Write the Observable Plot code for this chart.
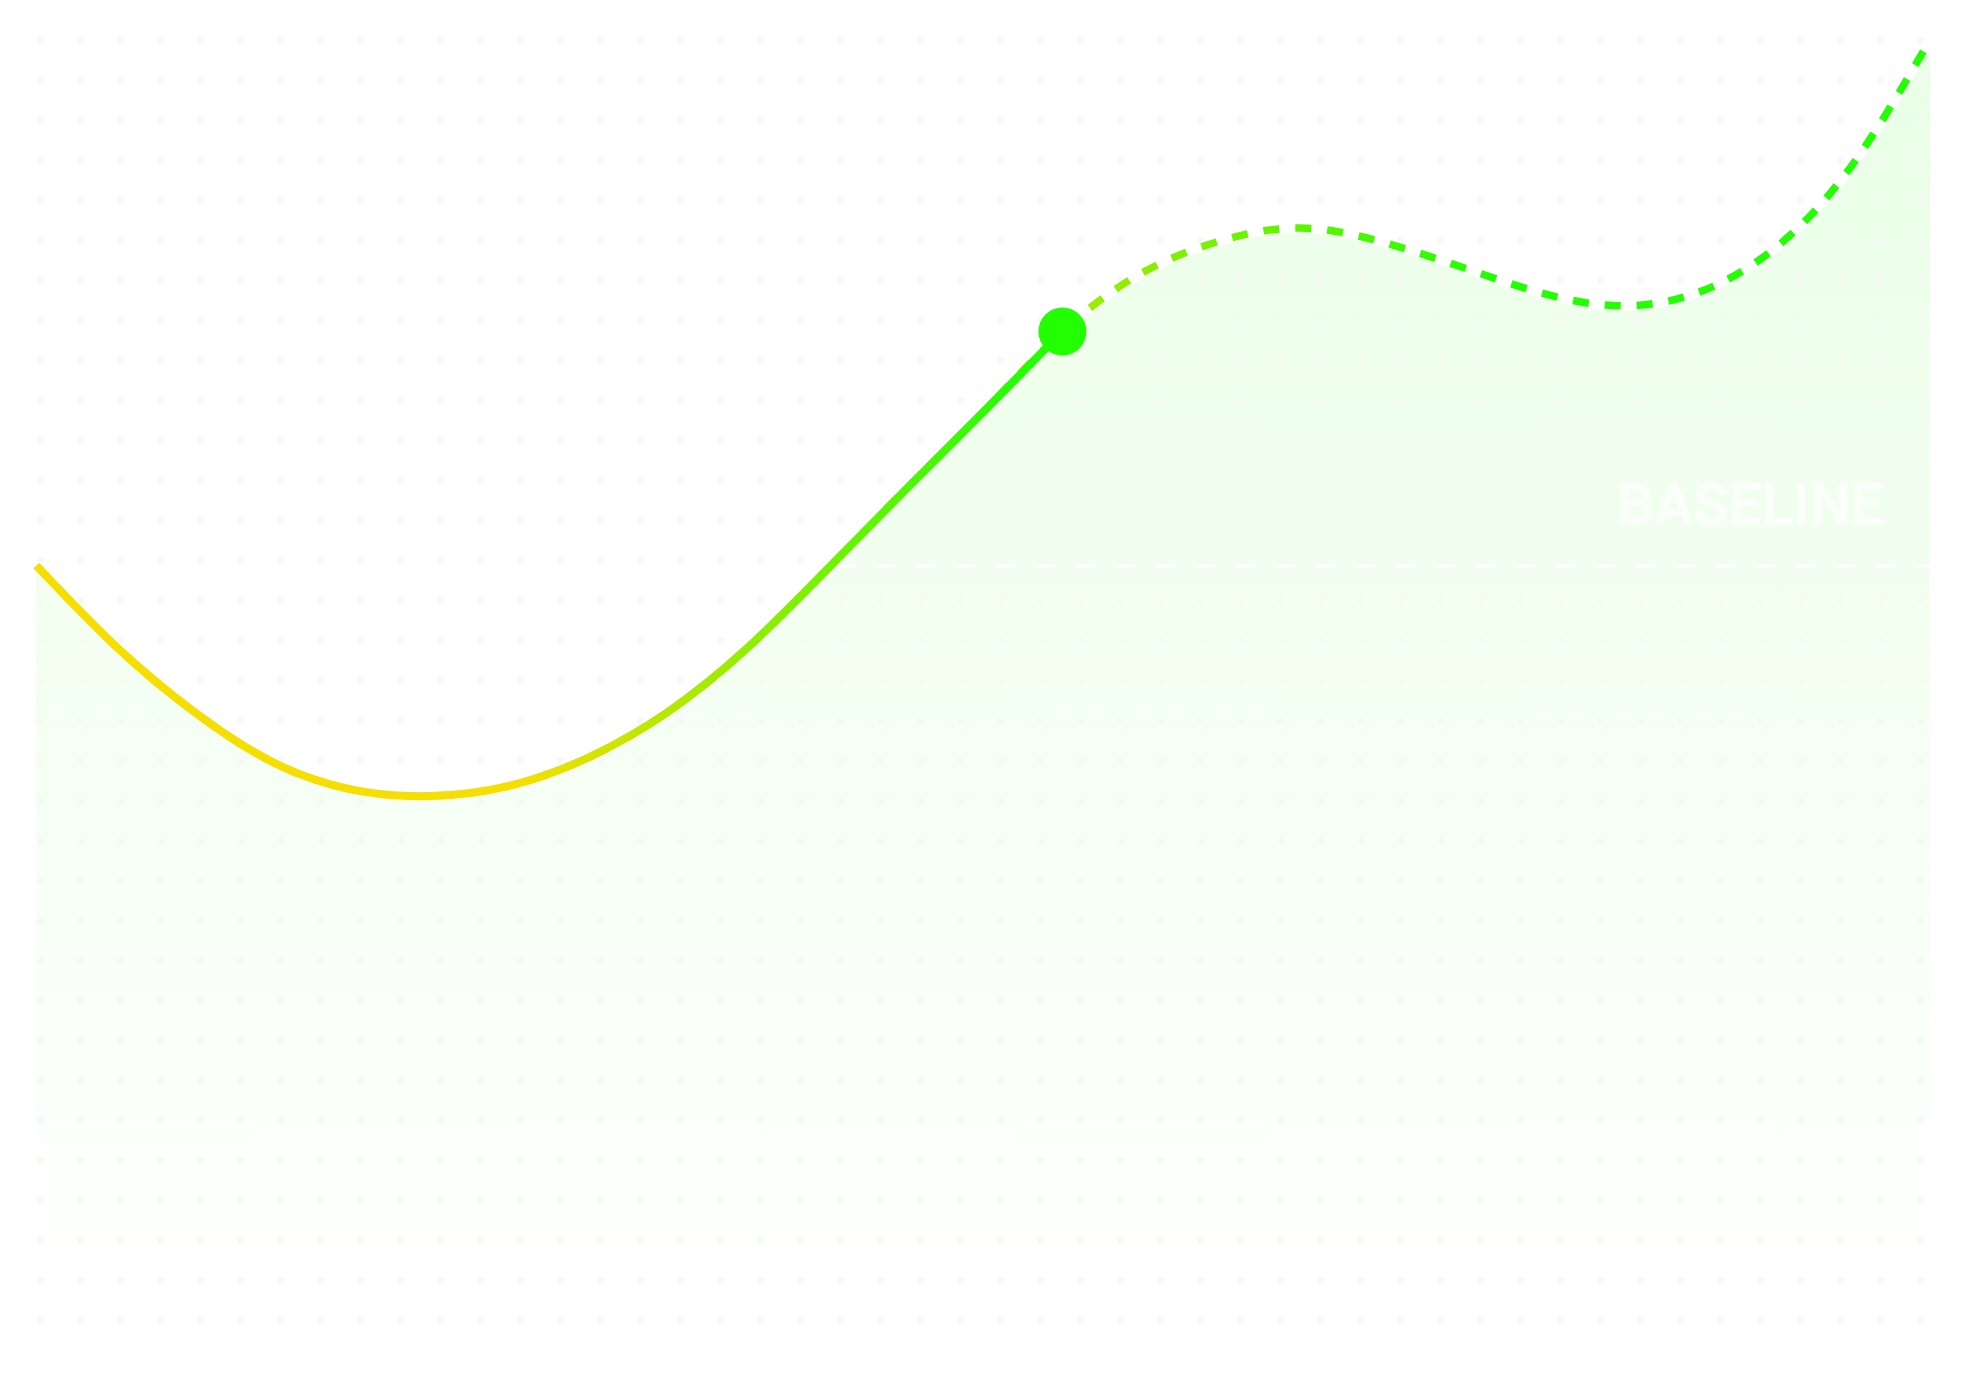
<!DOCTYPE html>
<html>
<head>
<meta charset="utf-8">
<script src="https://cdn.jsdelivr.net/npm/d3@7"></script>
<script src="https://cdn.jsdelivr.net/npm/@observablehq/plot@0.6"></script>
<style>
  html, body { margin: 0; padding: 0; background: #ffffff; overflow: hidden; }
</style>
</head>
<body>
<div id="chart"></div>
<script>
// Period index (0–24) and values
const periods = [0, 1, 2, 3, 4, 5, 6, 7, 8, 9, 10, 11, 12, 13, 14, 15, 16, 17, 18, 19, 20, 21, 22, 23, 24];
const values = [59.1, 52.9, 47.8, 43.9, 41.8, 41.3, 42.1, 44.3, 47.8, 52.7, 58.7, 64.9, 71.0, 77.2,
  81.7, 84.2, 85.2, 84.2, 82.3, 80.3, 79.2, 80.1, 83.5, 90.0, 99.8];
const actualCount = 14;           // points up to and including the marker (index 13)
const baselineLabel = "BASELINE";

const series = periods.map((t, i) => ({t, v: values[i]}));
const actual = series.slice(0, actualCount);
const current = [series[actualCount - 1]];
const baseline = values[0];
const lastPeriod = periods[periods.length - 1];

const svg = Plot.plot({
  width: 1968,
  height: 1382,
  marginLeft: 36,
  marginRight: 38,
  marginTop: 36,
  marginBottom: 52,
  x: {domain: [0, 24], axis: null},
  y: {domain: [0, 100], axis: null},
  style: {background: "#ffffff"},
  marks: [
    Plot.areaY(series, {x: "t", y: "v", curve: "natural", fill: "url(#areaFill)"}),
    Plot.frame({fill: "url(#dotgrid)", stroke: "none"}),
    Plot.ruleY([baseline], {stroke: "#ffffff", strokeWidth: 3, strokeDasharray: "20,20", strokeOpacity: 0.9}),
    Plot.text([baseline], {
      x: () => lastPeriod, y: d => d, text: () => baselineLabel, textAnchor: "end", lineAnchor: "middle",
      dx: -47, dy: -60, fontSize: 58, fontWeight: 700, fontFamily: "Roboto, sans-serif",
      fill: "#ffffff", fillOpacity: 0.7
    }),
    Plot.line(series, {x: "t", y: "v", curve: "natural", stroke: "#ffffff", strokeWidth: 10, strokeOpacity: 0.9}),
    Plot.line(series, {x: "t", y: "v", curve: "natural", stroke: "url(#dashGrad)", strokeWidth: 7.5,
      strokeDasharray: "16,16", strokeLinecap: "butt"}),
    Plot.line(actual, {x: "t", y: "v", curve: "natural", stroke: "url(#solidGrad)", strokeWidth: 8,
      strokeLinecap: "butt"}),
    Plot.dot(current, {x: "t", y: "v", r: 24, fill: "#22ff00", stroke: "none"})
  ]
});

const defs = d3.select(svg).insert("defs", ":first-child");
function grad(id, stops, attrs) {
  const g = defs.append("linearGradient").attr("id", id);
  Object.entries(attrs).forEach(([k, v]) => g.attr(k, v));
  stops.forEach(([o, c, op]) => g.append("stop").attr("offset", o).attr("stop-color", c).attr("stop-opacity", op));
}
grad("solidGrad", [[0, "#f5df00", 1], [0.47, "#f5df00", 1], [0.95, "#22ff00", 1], [1, "#22ff00", 1]],
  {x1: 0, y1: 0, x2: 1, y2: 0});
grad("dashGrad", [[0, "#f5df00", 1], [0.4, "#f5df00", 1], [0.76, "#22ff00", 1], [1, "#22ff00", 1]],
  {x1: 0, y1: 0, x2: 1, y2: 0});
grad("areaFill", [[0, "#22ff00", 0.1], [1, "#22ff00", 0]], {x1: 0, y1: 0, x2: 0, y2: 1});
const pat = defs.append("pattern").attr("id", "dotgrid").attr("patternUnits", "userSpaceOnUse")
  .attr("x", 20).attr("y", 20).attr("width", 40).attr("height", 40);
pat.append("circle").attr("cx", 20).attr("cy", 20).attr("r", 3.5).attr("fill", "#f6f9f3");

document.getElementById("chart").appendChild(svg);
</script>
</body>
</html>
